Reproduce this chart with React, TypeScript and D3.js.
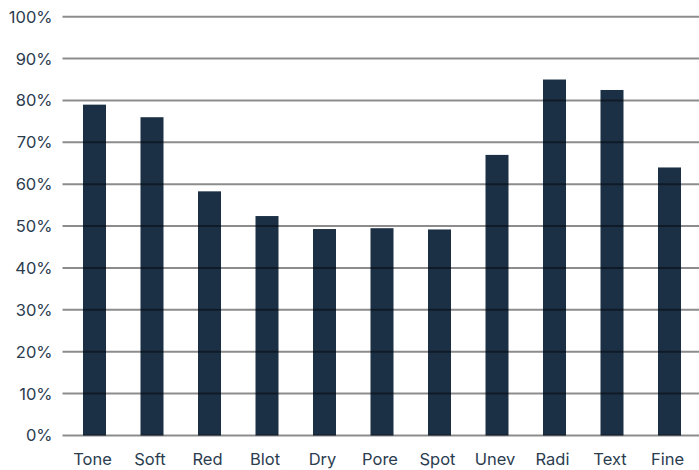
import * as d3 from "d3";

const width = 699;
const height = 470;

const categories = ["Tone", "Soft", "Red", "Blot", "Dry", "Pore", "Spot", "Unev", "Radi", "Text", "Fine"];
const values = [79, 76, 58.3, 52.4, 49.3, 49.5, 49.2, 67, 85, 82.5, 64];
const yTicks = [0, 10, 20, 30, 40, 50, 60, 70, 80, 90, 100];

const textColor = "#2b3c4f";
const barColor = "#1c3045";

export default function App() {
  const x = d3
    .scaleBand<string>()
    .domain(categories)
    .range([65.75, 698.25])
    .paddingInner(0.6)
    .paddingOuter(0.3);

  const y = d3.scaleLinear().domain([0, 100]).range([435.5, 16.7]);

  return (
    <svg
      width={width}
      height={height}
      style={{ position: "absolute", left: 0, top: 0 }}
      fontFamily="Inter, 'Liberation Sans', Arial, sans-serif"
    >
      <rect width={width} height={height} fill="#fff" />
      {categories.map((c, i) => (
        <rect
          key={c}
          x={x(c)}
          y={y(values[i])}
          width={x.bandwidth()}
          height={y(0) - y(values[i])}
          fill={barColor}
        />
      ))}
      {yTicks.map((t) => (
        <g key={t}>
          <line
            x1={62.5}
            x2={width}
            y1={y(t)}
            y2={y(t)}
            stroke="#000"
            strokeOpacity={0.45}
            strokeWidth={2}
          />
          <text
            x={52.5}
            y={y(t)}
            dy="0.36em"
            textAnchor="end"
            fontSize={16.5}
            fill={textColor}
          >
            {t}%
          </text>
        </g>
      ))}
      {categories.map((c) => (
        <text
          key={c}
          x={(x(c) ?? 0) + x.bandwidth() / 2 - 2}
          y={465}
          textAnchor="middle"
          fontSize={16.5}
          fill={textColor}
        >
          {c}
        </text>
      ))}
    </svg>
  );
}
